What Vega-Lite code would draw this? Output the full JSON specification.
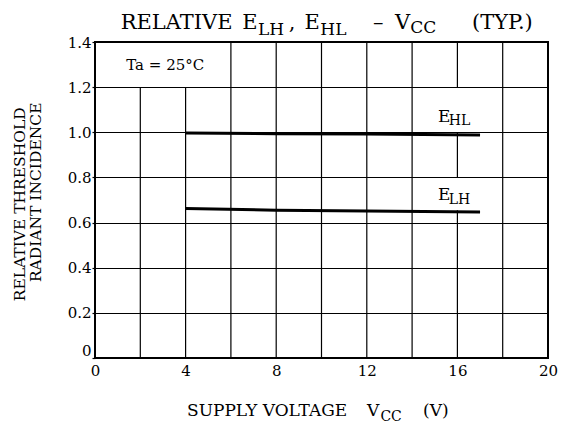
{
  "$schema": "https://vega.github.io/schema/vega-lite/v6.json",
  "width": 453,
  "height": 316,
  "autosize": {"type": "none"},
  "padding": {"left": 95, "top": 42, "right": 18, "bottom": 65},
  "background": "white",
  "config": {
    "view": {"stroke": "black", "strokeWidth": 2},
    "font": "DejaVu Serif",
    "text": {"color": "black", "font": "DejaVu Serif"}
  },
  "datasets": {
    "curves": [
      {"series": "EHL", "x": 4, "y": 0.997},
      {"series": "EHL", "x": 8, "y": 0.994},
      {"series": "EHL", "x": 12, "y": 0.992},
      {"series": "EHL", "x": 17, "y": 0.988},
      {"series": "ELH", "x": 4, "y": 0.662},
      {"series": "ELH", "x": 8, "y": 0.655},
      {"series": "ELH", "x": 12, "y": 0.651},
      {"series": "ELH", "x": 17, "y": 0.647}
    ],
    "vgrid": [
      {"x": 2, "y": 0, "y2": 1.2},
      {"x": 4, "y": 0, "y2": 1.2},
      {"x": 6, "y": 0, "y2": 1.4},
      {"x": 8, "y": 0, "y2": 1.4},
      {"x": 10, "y": 0, "y2": 1.4},
      {"x": 12, "y": 0, "y2": 1.4},
      {"x": 14, "y": 0, "y2": 1.4},
      {"x": 16, "y": 0, "y2": 0.655},
      {"x": 16, "y": 0.8, "y2": 1.0},
      {"x": 16, "y": 1.2, "y2": 1.4},
      {"x": 18, "y": 0, "y2": 1.4}
    ],
    "mainText": [
      {"t": "RELATIVE", "x": 1.135, "y": 1.4594},
      {"t": "E", "x": 6.5, "y": 1.4594},
      {"t": ",", "x": 8.55, "y": 1.4594},
      {"t": "E", "x": 9.25, "y": 1.4594},
      {"t": "–", "x": 12.27, "y": 1.4594},
      {"t": "V", "x": 13.245, "y": 1.4594},
      {"t": "(TYP.)", "x": 16.645, "y": 1.4594}
    ],
    "mainSub": [
      {"t": "LH", "x": 7.2, "y": 1.4298},
      {"t": "HL", "x": 9.95, "y": 1.4298},
      {"t": "CC", "x": 13.92, "y": 1.4386}
    ],
    "xTitle": [
      {"t": "SUPPLY VOLTAGE", "x": 4.062, "y": -0.258},
      {"t": "V", "x": 12.009, "y": -0.258},
      {"t": "(V)", "x": 14.481, "y": -0.258}
    ],
    "xTitleSub": [
      {"t": "CC", "x": 12.6, "y": -0.2805}
    ],
    "yTitle": [
      {"t": "RELATIVE THRESHOLD", "x": -3.1, "y": 0.681},
      {"t": "RADIANT INCIDENCE", "x": -2.4, "y": 0.734}
    ],
    "labelE": [
      {"t": "E", "x": 15.14, "y": 1.044},
      {"t": "E", "x": 15.14, "y": 0.698}
    ],
    "labelSub": [
      {"t": "HL", "x": 15.62, "y": 1.031},
      {"t": "LH", "x": 15.62, "y": 0.684}
    ],
    "cond": [
      {"t": "Ta = 25°C", "x": 3.1, "y": 1.3}
    ]
  },
  "encoding": {
    "x": {
      "field": "x",
      "type": "quantitative",
      "title": null,
      "scale": {"domain": [0, 20], "nice": false, "zero": false},
      "axis": {
        "values": [0, 4, 8, 12, 16, 20],
        "grid": false,
        "domain": false,
        "ticks": false,
        "labelPadding": 5,
        "labelFontSize": 15,
        "labelFont": "DejaVu Serif",
        "labelColor": "black",
        "labelFlush": false
      }
    },
    "y": {
      "field": "y",
      "type": "quantitative",
      "title": null,
      "scale": {"domain": [0, 1.4], "nice": false, "zero": false},
      "axis": {
        "values": [0, 0.2, 0.4, 0.6, 0.8, 1.0, 1.2, 1.4],
        "grid": true,
        "gridColor": "black",
        "gridWidth": 1.2,
        "gridOpacity": 1,
        "domain": false,
        "tickSize": 3,
        "tickColor": "black",
        "tickWidth": 1.2,
        "labelPadding": 1,
        "labelFontSize": 15,
        "labelFont": "DejaVu Serif",
        "labelColor": "black",
        "labelFlush": false,
        "labelExpr": "datum.value == 0 ? '0' : format(datum.value, '.1f')",
        "labelBaseline": {"condition": {"test": "datum.value == 0", "value": "bottom"}, "value": "middle"}
      }
    }
  },
  "layer": [
    {
      "data": {"name": "vgrid"},
      "mark": {"type": "rule", "color": "black", "strokeWidth": 1.2},
      "encoding": {"y2": {"field": "y2"}}
    },
    {
      "data": {"name": "curves"},
      "mark": {"type": "line", "color": "black", "strokeWidth": 3},
      "encoding": {"detail": {"field": "series", "type": "nominal"}}
    },
    {
      "data": {"name": "mainText"},
      "mark": {"type": "text", "align": "left", "baseline": "alphabetic", "fontSize": 21, "color": "black"},
      "encoding": {"text": {"field": "t"}}
    },
    {
      "data": {"name": "mainSub"},
      "mark": {"type": "text", "align": "left", "baseline": "alphabetic", "fontSize": 17, "color": "black"},
      "encoding": {"text": {"field": "t"}}
    },
    {
      "data": {"name": "xTitle"},
      "mark": {"type": "text", "align": "left", "baseline": "alphabetic", "fontSize": 17, "color": "black"},
      "encoding": {"text": {"field": "t"}}
    },
    {
      "data": {"name": "xTitleSub"},
      "mark": {"type": "text", "align": "left", "baseline": "alphabetic", "fontSize": 14, "color": "black"},
      "encoding": {"text": {"field": "t"}}
    },
    {
      "data": {"name": "yTitle"},
      "mark": {"type": "text", "align": "center", "baseline": "alphabetic", "angle": 270, "fontSize": 15.5, "color": "black"},
      "encoding": {"text": {"field": "t"}}
    },
    {
      "data": {"name": "labelE"},
      "mark": {"type": "text", "align": "left", "baseline": "alphabetic", "fontSize": 17, "color": "black"},
      "encoding": {"text": {"field": "t"}}
    },
    {
      "data": {"name": "labelSub"},
      "mark": {"type": "text", "align": "left", "baseline": "alphabetic", "fontSize": 14, "color": "black"},
      "encoding": {"text": {"field": "t"}}
    },
    {
      "data": {"name": "cond"},
      "mark": {"type": "text", "align": "center", "baseline": "middle", "fontSize": 15, "color": "black"},
      "encoding": {"text": {"field": "t"}}
    }
  ]
}
